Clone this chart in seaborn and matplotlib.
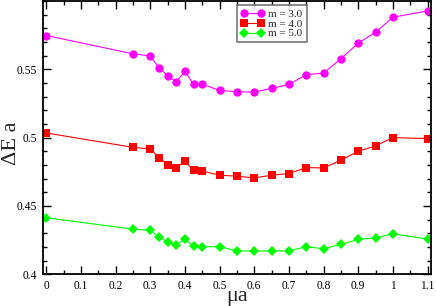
import numpy as np
import pandas as pd
import matplotlib
matplotlib.use("Agg")
import matplotlib.pyplot as plt
import seaborn as sns
from matplotlib.ticker import MultipleLocator

mu = [0, 0.25, 0.3, 0.325, 0.35, 0.375, 0.4, 0.425, 0.45, 0.5, 0.55, 0.6,
      0.65, 0.7, 0.75, 0.8, 0.85, 0.9, 0.95, 1.0, 1.1]
m3 = [0.5747, 0.5613, 0.5598, 0.5511, 0.5453, 0.5409, 0.5484, 0.5391, 0.5391,
      0.5345, 0.5336, 0.5333, 0.5360, 0.5389, 0.5460, 0.5472, 0.5577, 0.5691,
      0.5771, 0.5880, 0.5927]
m4 = [0.5034, 0.4929, 0.4917, 0.4854, 0.4803, 0.4778, 0.4829, 0.4761, 0.4756,
      0.4725, 0.4718, 0.4705, 0.4725, 0.4737, 0.4781, 0.4778, 0.4834, 0.4900,
      0.4939, 0.5000, 0.4993]
m5 = [0.4413, 0.4331, 0.4321, 0.4275, 0.4236, 0.4214, 0.4258, 0.4204, 0.4202,
      0.4202, 0.4172, 0.4170, 0.4170, 0.4172, 0.4202, 0.4187, 0.4219, 0.4255,
      0.4267, 0.4296, 0.4258]
labels = ["m = 3.0", "m = 4.0", "m = 5.0"]
colors = ["#ff00ff", "#ff0000", "#00ff00"]
markers = ["o", "s", "D"]

df = pd.concat([pd.DataFrame({"mu": mu, "dE": v, "series": l})
                for v, l in zip([m3, m4, m5], labels)])

sns.set_theme(style="ticks")
plt.rcParams["font.family"] = ["Liberation Serif", "DejaVu Serif"]

W, H = 436, 306
fig = plt.figure(figsize=(W / 100, H / 100), dpi=100)
ax = fig.add_axes([0.098, 0.1036, 0.8905, 0.8934])

sizes = [6, 5.2, 5.2]
for lab, c, mk, ms in zip(labels, colors, markers, sizes):
    sub = df[df["series"] == lab]
    sns.lineplot(data=sub, x="mu", y="dE", ax=ax, color=c, marker=mk,
                 markersize=ms, markeredgewidth=0, linewidth=0.8, label=lab,
                 estimator=None, sort=False)

ax.set_xlim(-0.01, 1.11)
ax.set_ylim(0.4, 0.6)
ax.xaxis.set_major_locator(MultipleLocator(0.1))
ax.xaxis.set_minor_locator(MultipleLocator(0.05))
ax.yaxis.set_major_locator(MultipleLocator(0.05))
ax.yaxis.set_minor_locator(MultipleLocator(0.01))
ax.set_xticks([0, 0.1, 0.2, 0.3, 0.4, 0.5, 0.6, 0.7, 0.8, 0.9, 1.0, 1.1])
ax.set_xticklabels(["0", "0.1", "0.2", "0.3", "0.4", "0.5", "0.6", "0.7",
                    "0.8", "0.9", "1", "1.1"])
ax.set_yticks([0.4, 0.45, 0.5, 0.55])
ax.set_yticklabels(["0.4", "0.45", "0.5", "0.55"])
ax.tick_params(which="both", direction="in", top=True, right=True,
               labelsize=8.3, colors="black", width=1)
ax.tick_params(which="major", length=6, pad=4)
ax.tick_params(which="minor", length=3)
for s in ax.spines.values():
    s.set_linewidth(1.3)
    s.set_color("black")

ax.set_xlabel("μa", fontsize=16, va="center")
ax.set_ylabel("ΔE a", fontsize=16, va="center")
ax.xaxis.set_label_coords(237 / W, 1 - 297 / H, transform=fig.transFigure)
ax.yaxis.set_label_coords(11 / W, 1 - 143 / H, transform=fig.transFigure)

leg = ax.legend(loc="upper left", bbox_to_anchor=(0.4996, 0.9845), fontsize=8,
                frameon=True, fancybox=False, edgecolor="#555555",
                numpoints=2, handlelength=2.1, borderpad=0.36,
                labelspacing=0.0, handletextpad=0.4, borderaxespad=0)
leg.get_frame().set_linewidth(1.2)

fig.savefig("out.png", dpi=100)
